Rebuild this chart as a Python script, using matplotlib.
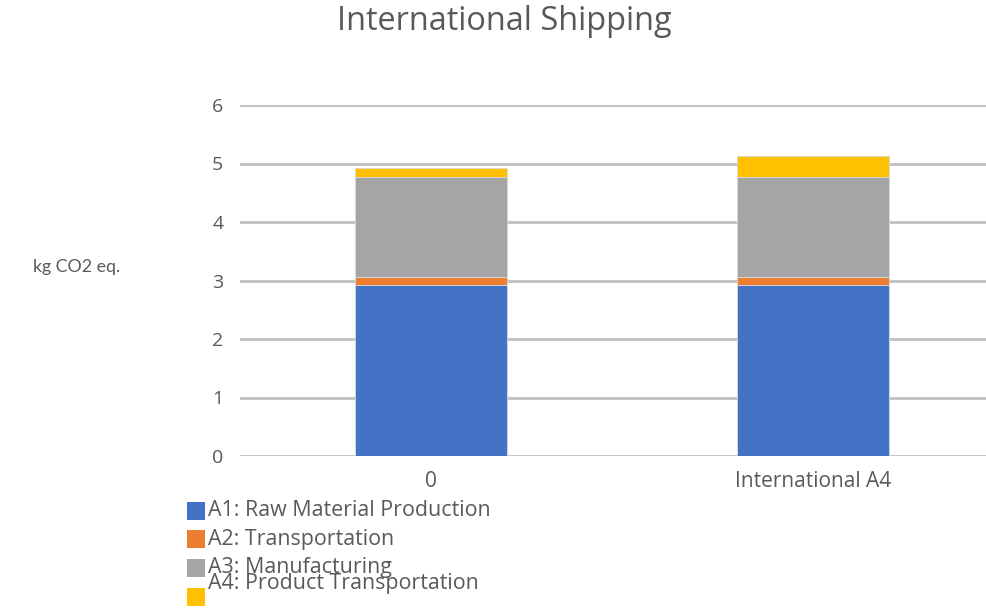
import matplotlib
matplotlib.use("Agg")
import matplotlib.pyplot as plt
from matplotlib.patches import Rectangle
import numpy as np

categories = ["0", "International A4"]
series = ["A1: Raw Material Production", "A2: Transportation",
          "A3: Manufacturing", "A4: Product Transportation"]
a1 = [2.92, 2.92]
a2 = [0.14, 0.14]
a3 = [1.71, 1.71]
a4 = [0.16, 0.35]
colors = ["#4472C4", "#ED7D31", "#A5A5A5", "#FFC000"]

plt.rcParams["font.family"] = ["Open Sans", "DejaVu Sans"]
txt = "#595959"

fig = plt.figure(figsize=(9.87, 6.10), dpi=100)
ax = fig.add_axes([240/987, 1-456/610, 764/987, (456-105)/610])

x = np.arange(len(categories))
bottom = np.zeros(len(categories))
for vals, c, name in zip([a1, a2, a3, a4], colors, series):
    ax.bar(x, vals, width=0.4, bottom=bottom, color=c, edgecolor="#d9d9d9",
           linewidth=0.6, label=name, zorder=3)
    bottom += np.array(vals)

ax.set_xlim(-0.5, 1.5)
ax.set_ylim(0, 6)
ax.set_yticks(range(7))
ax.set_xticks(x)
ax.set_xticklabels(categories)
ax.yaxis.grid(True, color="#c0c0c0", lw=2, zorder=0)
ax.tick_params(axis="both", length=0, colors=txt)
ax.tick_params(axis="y", pad=12, labelsize=14)
ax.tick_params(axis="x", pad=11, labelsize=15)
for s in ax.spines.values():
    s.set_visible(False)

fig.text(504/987, 1-21/610, "International Shipping", fontsize=23.4, color=txt,
         ha="center", va="center")
fig.text(33/987, 1-267/610, "kg CO2 eq.", fontsize=12.8, color=txt,
         ha="left", va="center", family=["Lato", "DejaVu Sans"])

# legend entries, last label squeezed up against the one above
sq_y = [511, 539, 568, 597]
lab_y = [511, 539, 568, 583]
for name, c, sy, ly in zip(series, colors, sq_y, lab_y):
    fig.patches.append(Rectangle((187/987, 1-(sy+9)/610), 18/987, 18/610,
                                 transform=fig.transFigure, facecolor=c,
                                 edgecolor="none"))
    fig.text(208/987, 1-ly/610, name, fontsize=15.4, color=txt,
             ha="left", va="center")

fig.savefig("out.png", dpi=100, facecolor="white")
